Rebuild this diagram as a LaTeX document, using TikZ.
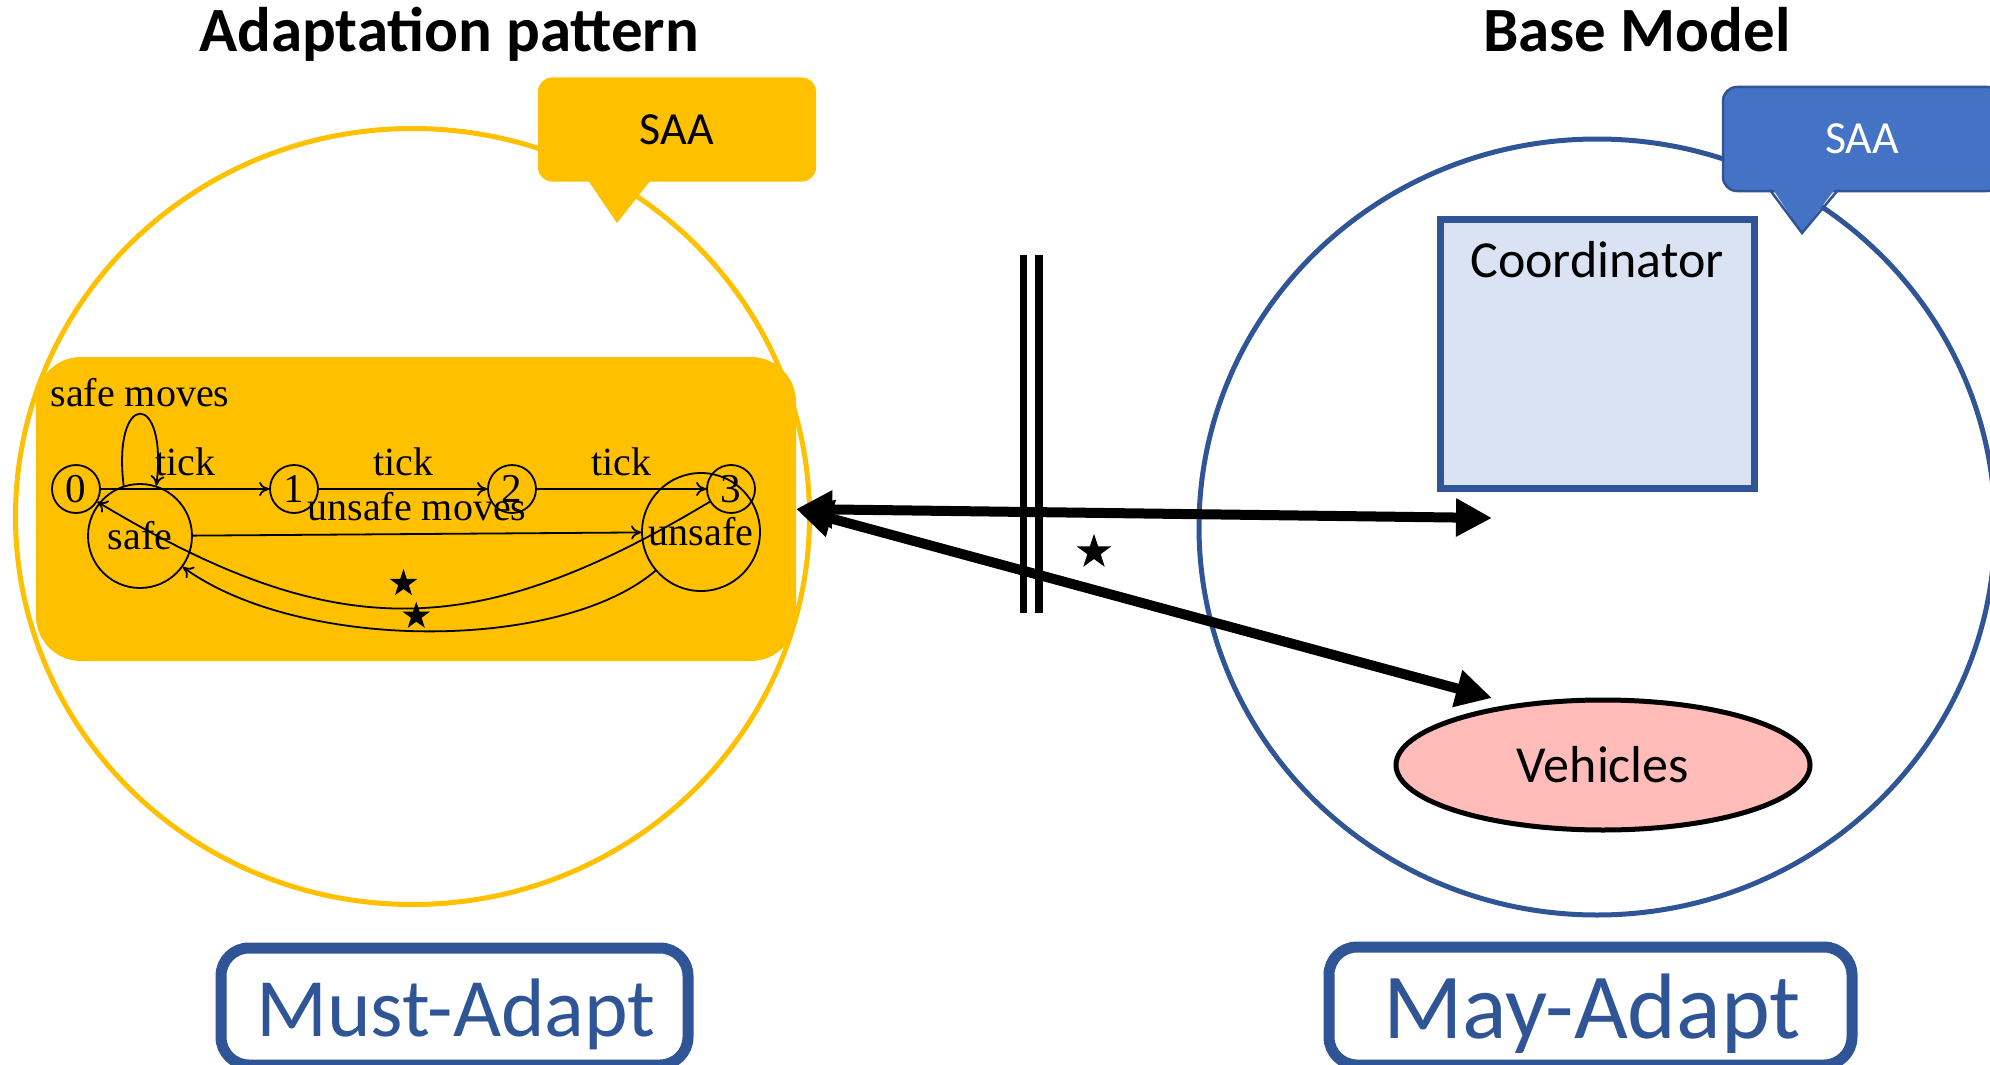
\documentclass[tikz,border=0pt]{standalone}
\usepackage{fontspec}
\newfontfamily\calibri{Carlito}
\newfontfamily\autofont{Liberation Serif}
\usetikzlibrary{arrows.meta,shapes.geometric}

\definecolor{gold}{HTML}{FFC000}
\definecolor{navy}{HTML}{2F5597}
\definecolor{saablue}{HTML}{4472C4}
\definecolor{paleblue}{HTML}{DAE3F3}
\definecolor{vehpink}{HTML}{FFBCB9}

\tikzset{
  heading/.style={font=\calibri\bfseries\fontsize{63pt}{75pt}\selectfont, inner sep=0pt, anchor=base},
  saabox/.style={rounded corners=14pt, minimum width=278pt, minimum height=104pt, inner sep=0pt,
                 font=\calibri\fontsize{46pt}{55pt}\selectfont},
  bodytext/.style={font=\calibri\fontsize{52pt}{62pt}\selectfont, inner sep=0pt},
  adaptbox/.style={draw=navy, line width=11pt, rounded corners=28pt, fill=white, inner sep=0pt},
  adapttext/.style={text=navy, inner sep=0pt, anchor=base},
  stnode/.style={circle, draw, line width=1.8pt, inner sep=0pt, minimum size=48pt,
                 font=\autofont\fontsize{41pt}{47pt}\selectfont},
  trans/.style={-{To[length=10pt,width=14pt]}, line width=1.8pt},
  ltext/.style={font=\autofont\fontsize{40pt}{46pt}\selectfont, inner sep=0pt},
  elabel/.style={ltext, above=12pt},
  starmark/.style={star, star points=5, star point ratio=2.6, fill=black, draw=none,
                   inner sep=0pt, minimum size=29pt},
  bigarrow/.style={line width=10pt, {Triangle[length=36pt,width=36pt]}-{Triangle[length=36pt,width=36pt]}},
}

\begin{document}
\begin{tikzpicture}[x=1pt, y=-1pt]
\useasboundingbox (0,0) rectangle (1990,1065);

% headings
\node[heading] (hl) at (449,52) {Adaptation pattern};
\node[heading] (hr) at (1637,52) {Base Model};

% component outlines
\draw[gold, line width=5pt] (412.5,516.5) ellipse [x radius=397pt, y radius=388pt];
\draw[navy, line width=5pt] (1597,527) ellipse [x radius=398pt, y radius=388pt];

% the adaptation pattern panel
\node[fill=gold, rounded corners=45pt, minimum width=760pt, minimum height=304pt, inner sep=0pt]
  (pattern) at (416,509) {};

% SAA callouts
\node[saabox, fill=gold] (saaL) at (677,129.5) {SAA};
\fill[gold] (585,176) -- (617,223) -- (654,176) -- cycle;
\node[saabox, fill=saablue, draw=navy, line width=2.5pt, text=white] (saaR) at (1862,139) {SAA};
\fill[saablue] (1770,185) -- (1802,233) -- (1838,185) -- cycle;
\draw[navy, line width=2.5pt, line join=miter] (1770,190) -- (1802,233) -- (1838,190);

% base model components
\node[draw=navy, line width=7pt, fill=paleblue, minimum width=314pt, minimum height=269pt, inner sep=0pt]
  (coord) at (1597,353.5) {};
\node[bodytext, anchor=base] (coordtext) at (1597,277) {Coordinator};
\node[ellipse, draw=black, line width=5pt, fill=vehpink, minimum width=414pt, minimum height=130pt,
      bodytext] (veh) at (1603,765) {Vehicles};

% automaton of the pattern
\node[stnode] (s0) at (76,489) {0};
\node[stnode] (s1) at (294,489) {1};
\node[stnode] (s2) at (512,489) {2};
\node[stnode] (s3) at (731,489) {3};
\node[stnode, font=\autofont\fontsize{40pt}{46pt}\selectfont, minimum size=104pt] (safe) at (140,536) {safe};
\node[stnode, font=\autofont\fontsize{40pt}{46pt}\selectfont, minimum size=118pt] (unsafe) at (701,532) {unsafe};

\draw[trans] (s0) -- node[elabel] {tick} (s1);
\draw[trans] (s1) -- node[elabel] {tick} (s2);
\draw[trans] (s2) -- node[elabel] {tick} (s3);
\draw[trans] (safe) -- node[elabel] {unsafe moves} (unsafe);
\draw[trans] (safe.108) .. controls (112,390) and (168,390) .. node[ltext, above=6pt] {safe moves} (safe.72);
\draw[trans] (s3) .. controls (473,644) and (334,644) .. node[starmark, yshift=25pt] {} (s0);
\draw[trans] (unsafe) .. controls (560,652) and (300,652) .. node[starmark, pos=0.52, yshift=15pt] {} (safe);

% parallel composition bars
\draw[line width=7.5pt] (1023.5,255) -- (1023.5,613);
\draw[line width=7.5pt] (1039,255) -- (1039,613);
\node[starmark, minimum size=36.5pt] (sepstar) at (1094,552) {};

% bindings
\coordinate (coordin) at (1492,518);
\coordinate (vehin) at (1492,698);
\draw[bigarrow] (pattern.east) -- (coordin);
\draw[bigarrow] (pattern.east) -- (vehin);

% adaptation kinds
\node[adaptbox, minimum width=467pt, minimum height=117pt] (mustbox) at (454.5,1006.5) {};
\node[adapttext, font=\calibri\fontsize{83pt}{99pt}\selectfont] (musttext) at (456,1036) {Must-Adapt};
\node[adaptbox, minimum width=523pt, minimum height=118pt] (maybox) at (1590.5,1006) {};
\node[adapttext, font=\calibri\fontsize{93pt}{111pt}\selectfont] (maytext) at (1592,1038) {May-Adapt};
\end{tikzpicture}
\end{document}
